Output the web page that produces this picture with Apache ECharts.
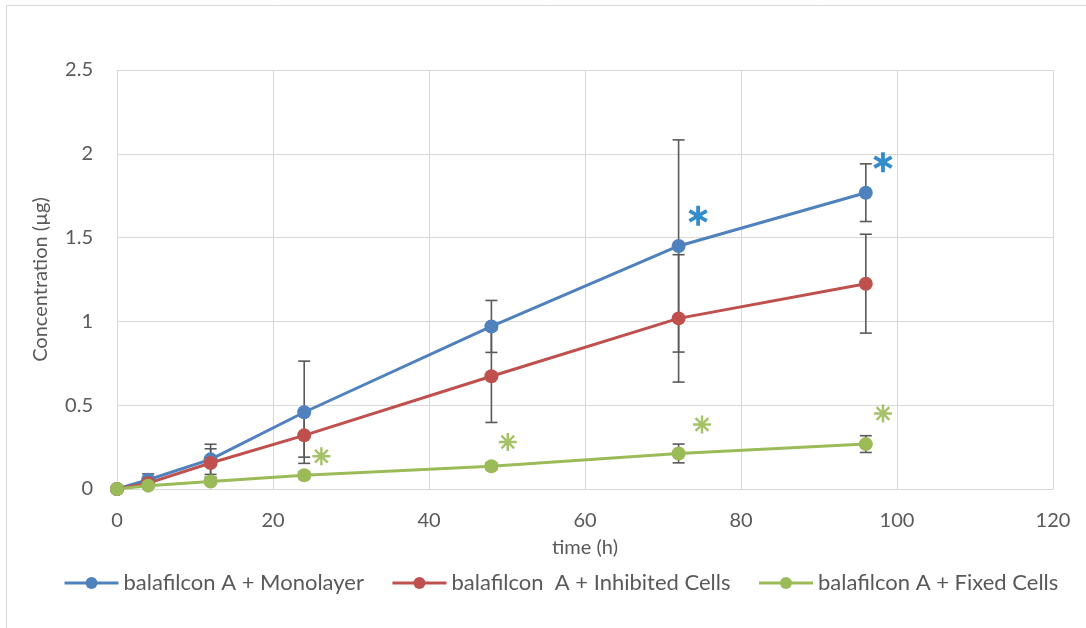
<!DOCTYPE html>
<html>
<head>
<meta charset="utf-8">
<script src="https://cdn.jsdelivr.net/npm/echarts@6/dist/echarts.min.js"></script>
<style>
  html, body { margin: 0; padding: 0; background: #ffffff; }
  #chart { width: 1086px; height: 628px; }
</style>
</head>
<body>
<div id="chart"></div>
<script>
// Sampling times (h)
const times = [0, 4, 12, 24, 48, 72, 96];

// Mean released amount (µg) per condition
const monolayer = [0, 0.055, 0.177, 0.458, 0.970, 1.450, 1.768];
const inhibited = [0, 0.035, 0.155, 0.320, 0.673, 1.018, 1.225];
const fixed     = [0, 0.020, 0.045, 0.082, 0.136, 0.212, 0.268];

// Standard deviations
const monolayerSD = [0, 0.035, 0.090, 0.305, 0.155, 0.633, 0.172];
const inhibitedSD = [0, 0.020, 0.085, 0.130, 0.276, 0.380, 0.295];
const fixedSD     = [0, 0.010, 0.015, 0.020, 0.020, 0.056, 0.050];

// Significance markers [time, concentration]
const monolayerStars = [[74.5, 1.63], [98.2, 1.95]];
const fixedStars = [[26.2, 0.195], [50.1, 0.28], [75.0, 0.385], [98.2, 0.45]];

// Series names and axis settings
const seriesNames = ['balafilcon A + Monolayer', 'balafilcon  A + Inhibited Cells', 'balafilcon A + Fixed Cells'];
const xTitle = 'time (h)';
const yTitle = 'Concentration (µg)';

const colors = ['#4F81BD', '#C0504D', '#9BBB59'];
const FONT = 'Lato, "Liberation Sans", sans-serif';
const TEXT = '#595959';

// Asterisk glyph built from crossing bars
function asteriskPath(bars, halfThick, startAngle) {
  const R = 10, c = 10;
  let p = '';
  for (let i = 0; i < bars; i++) {
    const a = startAngle + i * Math.PI / bars;
    const dx = Math.sin(a), dy = -Math.cos(a);
    const nx = Math.cos(a), ny = Math.sin(a);
    const pts = [
      [c + R * dx + halfThick * nx, c + R * dy + halfThick * ny],
      [c + R * dx - halfThick * nx, c + R * dy - halfThick * ny],
      [c - R * dx - halfThick * nx, c - R * dy - halfThick * ny],
      [c - R * dx + halfThick * nx, c - R * dy + halfThick * ny]
    ];
    p += 'M' + pts.map(q => q[0].toFixed(2) + ' ' + q[1].toFixed(2)).join(' L') + ' Z ';
  }
  return 'path://' + p;
}
const boldStar = asteriskPath(3, 1.9, 0);
const thinStar = asteriskPath(4, 1.35, 0);

function pairs(ys) { return times.map((t, i) => [t, ys[i]]); }
function errData(ys, sd) { return times.map((t, i) => [t, ys[i] - sd[i], ys[i] + sd[i]]); }

function errorSeries(ys, sd) {
  return {
    type: 'custom',
    z: 1,
    silent: true,
    data: errData(ys, sd),
    encode: { x: 0, y: [1, 2] },
    renderItem: function (params, api) {
      const x = api.value(0);
      const lo = api.coord([x, api.value(1)]);
      const hi = api.coord([x, api.value(2)]);
      const w = 6;
      const st = { stroke: '#595959', lineWidth: 1.6 };
      return {
        type: 'group',
        children: [
          { type: 'line', shape: { x1: hi[0], y1: hi[1], x2: lo[0], y2: lo[1] }, style: st },
          { type: 'line', shape: { x1: hi[0] - w, y1: hi[1], x2: hi[0] + w, y2: hi[1] }, style: st },
          { type: 'line', shape: { x1: lo[0] - w, y1: lo[1], x2: lo[0] + w, y2: lo[1] }, style: st }
        ]
      };
    }
  };
}

function lineSeries(name, ys, color) {
  return {
    name: name,
    type: 'line',
    z: 3,
    data: pairs(ys),
    symbol: 'circle',
    symbolSize: 14,
    lineStyle: { color: color, width: 3 },
    itemStyle: { color: color },
    emphasis: { disabled: true },
    animation: false
  };
}

const chart = echarts.init(document.getElementById('chart'), null, { renderer: 'canvas' });
chart.setOption({
  animation: false,
  backgroundColor: '#ffffff',
  color: colors,
  graphic: [{
    type: 'rect',
    shape: { x: 6.5, y: 5.5, width: 1100, height: 700 },
    style: { fill: 'none', stroke: '#d9d9d9', lineWidth: 1 },
    z: -1
  }],
  grid: { left: 117, top: 70, right: 33, bottom: 139 },
  legend: {
    data: seriesNames,
    top: 572,
    left: 63,
    padding: 0,
    itemWidth: 54,
    itemHeight: 15,
    itemGap: 27,
    lineStyle: { width: 3 },
    textStyle: { fontFamily: FONT, fontSize: 22, color: TEXT }
  },
  xAxis: {
    type: 'value',
    min: 0, max: 120, interval: 20,
    name: xTitle,
    nameLocation: 'middle',
    nameGap: 49,
    nameTextStyle: { fontFamily: FONT, fontSize: 20, color: TEXT },
    axisLine: { show: true, lineStyle: { color: '#d9d9d9', width: 1 } },
    axisTick: { show: false },
    axisLabel: { fontFamily: FONT, fontSize: 20, color: TEXT, margin: 22 },
    splitLine: { show: true, lineStyle: { color: '#d9d9d9', width: 1 } }
  },
  yAxis: {
    type: 'value',
    min: 0, max: 2.5, interval: 0.5,
    name: yTitle,
    nameLocation: 'middle',
    nameGap: 66,
    nameTextStyle: { fontFamily: FONT, fontSize: 20, color: TEXT },
    axisLine: { show: true, lineStyle: { color: '#d9d9d9', width: 1 } },
    axisTick: { show: false },
    axisLabel: { fontFamily: FONT, fontSize: 20, color: TEXT, margin: 24 },
    splitLine: { show: true, lineStyle: { color: '#d9d9d9', width: 1 } }
  },
  series: [
    errorSeries(monolayer, monolayerSD),
    errorSeries(inhibited, inhibitedSD),
    errorSeries(fixed, fixedSD),
    lineSeries(seriesNames[0], monolayer, colors[0]),
    lineSeries(seriesNames[1], inhibited, colors[1]),
    lineSeries(seriesNames[2], fixed, colors[2]),
    {
      type: 'scatter', z: 4, silent: true,
      data: monolayerStars,
      symbol: boldStar, symbolSize: 20, symbolKeepAspect: true,
      itemStyle: { color: '#0070C0' }
    },
    {
      type: 'scatter', z: 4, silent: true,
      data: fixedStars,
      symbol: thinStar, symbolSize: 18, symbolKeepAspect: true,
      itemStyle: { color: '#9BBB59', opacity: 0.9 }
    }
  ]
});
</script>
</body>
</html>
